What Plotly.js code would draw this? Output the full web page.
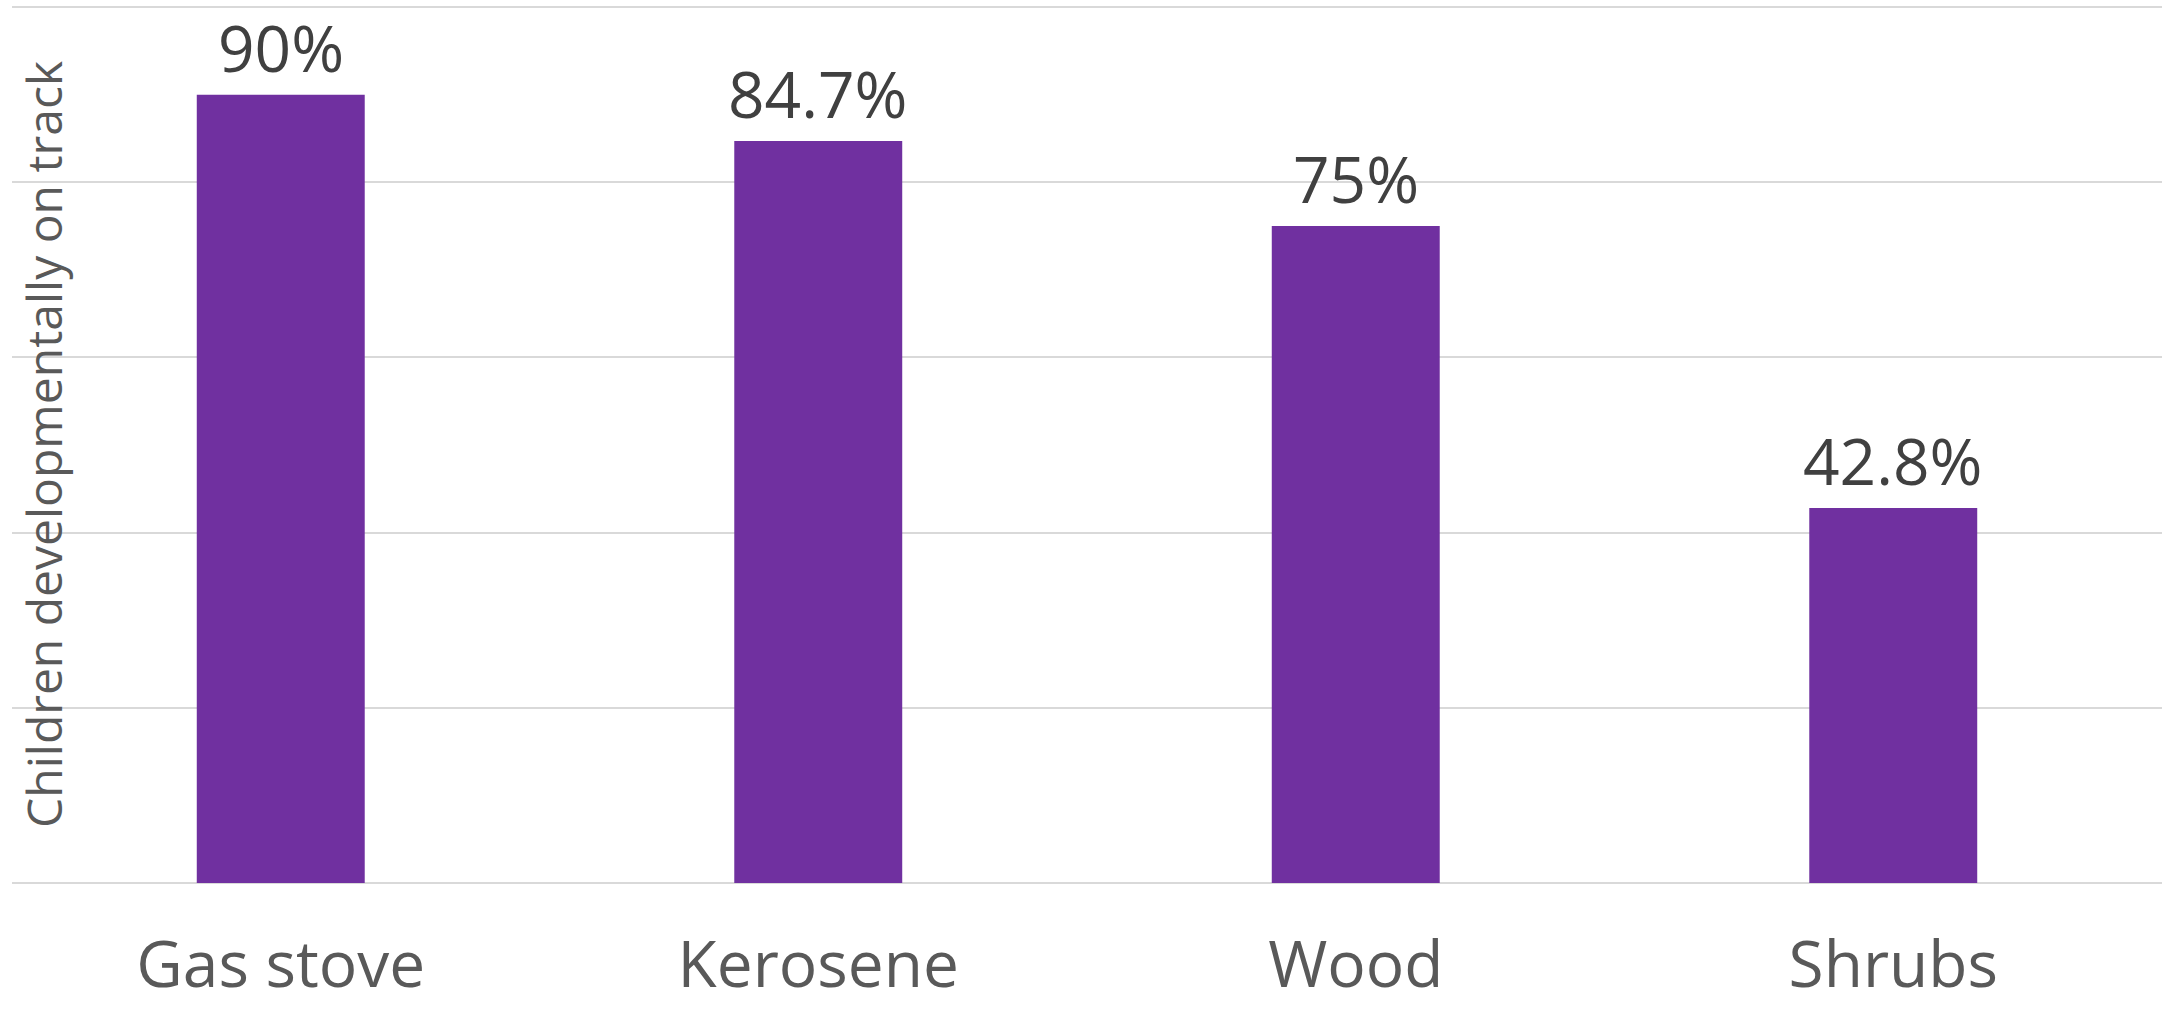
<!DOCTYPE html>
<html>
<head>
<meta charset="utf-8">
<script src="https://cdn.plot.ly/plotly-3.0.1.min.js"></script>
<style>html,body{margin:0;padding:0;background:#fff;}#chart{width:2173px;height:1010px;}</style>
</head>
<body>
<div id="chart"></div>
<script>
const categories = ["Gas stove", "Kerosene", "Wood", "Shrubs"];
const values = [90, 84.7, 75, 42.8];
const labels = values.map(v => v + "%");
const yTitle = "Children developmentally on track";

const trace = {
  type: "bar",
  x: categories,
  y: values,
  marker: {color: "#7030A0"},
  hoverinfo: "none"
};

const valueAnnotations = categories.map((c, i) => ({
  x: c, y: values[i],
  xref: "x", yref: "y",
  text: labels[i],
  showarrow: false,
  xanchor: "center", yanchor: "bottom",
  yshift: 3,
  borderpad: 0,
  font: {family: "Open Sans", size: 64, color: "#404040"}
}));

const layout = {
  width: 2173,
  height: 1010,
  margin: {l: 12, r: 11, t: 6, b: 126},
  paper_bgcolor: "#ffffff",
  plot_bgcolor: "#ffffff",
  bargap: 0.6875,
  showlegend: false,
  xaxis: {
    type: "category",
    showgrid: false,
    zeroline: false,
    showline: false,
    ticks: "",
    ticklabelstandoff: 38,
    tickfont: {family: "Open Sans", size: 64, color: "#595959"}
  },
  yaxis: {
    range: [-0.12, 100.12],
    tickvals: [0, 20, 40, 60, 80, 100],
    showticklabels: false,
    showgrid: true,
    gridcolor: "#D9D9D9",
    gridwidth: 2,
    zeroline: false,
    showline: false,
    ticks: ""
  },
  annotations: [{
    text: yTitle,
    xref: "paper", yref: "paper",
    x: 0, y: 0.5,
    xanchor: "center", yanchor: "middle",
    xshift: 31,
    textangle: -90,
    showarrow: false,
    font: {family: "Open Sans", size: 48, color: "#595959"}
  }].concat(valueAnnotations)
};

Plotly.newPlot("chart", [trace], layout, {displayModeBar: false, staticPlot: true});
</script>
</body>
</html>
